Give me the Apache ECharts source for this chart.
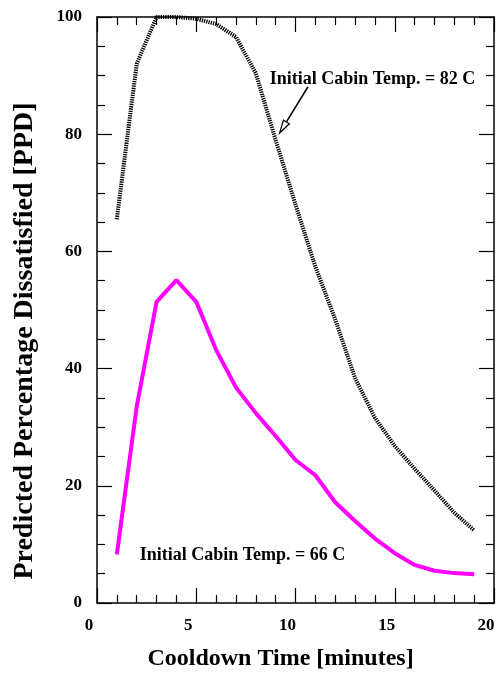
<!DOCTYPE html>
<html>
<head>
<meta charset="utf-8">
<script src="https://cdn.jsdelivr.net/npm/echarts@6/dist/echarts.min.js"></script>
<style>
  html, body { margin: 0; padding: 0; background: #fff; }
  #chart { width: 500px; height: 677px; }
</style>
</head>
<body>
<div id="chart"></div>
<script>
// cooldown time in minutes
var minutes = [1, 2, 3, 4, 5, 6, 7, 8, 9, 10, 11, 12, 13, 14, 15, 16, 17, 18, 19];
// PPD, initial cabin temp 82 C (dotted)
var ppd82 = [65.5, 92, 100, 100, 99.7, 98.8, 96.6, 90.4, 79, 68, 57.4, 48.4, 38.4, 31.6, 26.8, 22.9, 19.2, 15.4, 12.4];
// PPD, initial cabin temp 66 C (magenta)
var ppd66 = [8.3, 33.5, 51.4, 55.1, 51.4, 43.2, 36.8, 32.4, 28.5, 24.4, 21.8, 17.2, 14, 11, 8.5, 6.5, 5.5, 5.1, 4.9];

var xTicks = [0, 5, 10, 15, 20];
var yTicks = [0, 20, 40, 60, 80, 100];

var label82 = 'Initial Cabin Temp. = 82 C';
var label66 = 'Initial Cabin Temp. = 66 C';
var label82At = [8.7, 89.4];
var label66At = [2.15, 8.2];
var arrowFrom = [10.63, 88.1];
var arrowTo = [9.2, 80.2];

var FONT = 'Liberation Serif';

function pairs(xs, ys) {
    var out = [];
    for (var i = 0; i < xs.length; i++) out.push([xs[i], ys[i]]);
    return out;
}

function mkX(pos, show) {
    return {
        type: 'value', position: pos, min: xTicks[0], max: xTicks[xTicks.length - 1],
        interval: 5,
        name: show ? 'Cooldown Time [minutes]' : '',
        nameLocation: 'middle', nameGap: 44,
        nameTextStyle: {
            fontFamily: FONT, fontWeight: 'bold', fontSize: 24, color: '#000',
            padding: [0, 30, 0, 0]
        },
        axisLine: { show: true, onZero: false, lineStyle: { color: '#000', width: 1.5 } },
        axisTick: { show: true, inside: true, length: 15, lineStyle: { color: '#000', width: 1.2 } },
        minorTick: { show: true, splitNumber: 5, length: 8, lineStyle: { color: '#000', width: 1.2 } },
        axisLabel: {
            show: show, fontFamily: FONT, fontWeight: 'bold', fontSize: 17, color: '#000',
            margin: 14, padding: [0, 16, 0, 0]
        },
        splitLine: { show: false }
    };
}

function mkY(pos, show) {
    return {
        type: 'value', position: pos, min: yTicks[0], max: yTicks[yTicks.length - 1],
        interval: 20,
        name: show ? 'Predicted Percentage Dissatisfied [PPD]' : '',
        nameLocation: 'middle', nameGap: 58,
        nameTextStyle: {
            fontFamily: FONT, fontWeight: 'bold', fontSize: 28, color: '#000',
            padding: [0, 62, 0, 0]
        },
        axisLine: { show: true, onZero: false, lineStyle: { color: '#000', width: 1.5 } },
        axisTick: { show: true, inside: true, length: 15, lineStyle: { color: '#000', width: 1.2 } },
        minorTick: { show: true, splitNumber: 4, length: 8, lineStyle: { color: '#000', width: 1.2 } },
        axisLabel: {
            show: show, fontFamily: FONT, fontWeight: 'bold', fontSize: 17, color: '#000',
            margin: 15
        },
        splitLine: { show: false }
    };
}

var myChart = echarts.init(document.getElementById('chart'), null, { renderer: 'canvas' });

var option = {
    animation: false,
    backgroundColor: '#fff',
    grid: { left: 97, top: 17, right: 6, bottom: 74 },
    xAxis: [mkX('bottom', true), mkX('top', false)],
    yAxis: [mkY('left', true), mkY('right', false)],
    series: [
        {
            name: '82 C', type: 'line', showSymbol: false, symbol: 'none',
            data: pairs(minutes, ppd82),
            lineStyle: { color: '#000', width: 4, type: [1.3, 1] }
        },
        {
            name: '66 C', type: 'line', showSymbol: false, symbol: 'none',
            data: pairs(minutes, ppd66),
            lineStyle: { color: '#ff00ff', width: 4 }
        }
    ]
};
myChart.setOption(option);

// annotations placed from data coordinates
function px(p) { return myChart.convertToPixel({ gridIndex: 0 }, p); }
var a = px(arrowFrom), b = px(arrowTo);
var dx = b[0] - a[0], dy = b[1] - a[1];
var len = Math.sqrt(dx * dx + dy * dy);
var ux = dx / len, uy = dy / len;
var headLen = 13, headW = 3.5;
var base = [b[0] - ux * headLen, b[1] - uy * headLen];
var t1 = px(label82At), t2 = px(label66At);
var txtStyle = { fontFamily: FONT, fontWeight: 'bold', fontSize: 18, fill: '#000', verticalAlign: 'middle' };

myChart.setOption({
    graphic: [
        { type: 'text', x: t1[0], y: t1[1], style: Object.assign({ text: label82 }, txtStyle) },
        { type: 'text', x: t2[0], y: t2[1], style: Object.assign({ text: label66 }, txtStyle) },
        {
            type: 'line',
            shape: { x1: a[0], y1: a[1], x2: base[0], y2: base[1] },
            style: { stroke: '#000', lineWidth: 1.5 }
        },
        {
            type: 'polygon',
            shape: {
                points: [
                    [b[0], b[1]],
                    [base[0] - uy * headW, base[1] + ux * headW],
                    [base[0] + uy * headW, base[1] - ux * headW]
                ]
            },
            style: { fill: '#fff', stroke: '#000', lineWidth: 1.2 }
        }
    ]
});
</script>
</body>
</html>
